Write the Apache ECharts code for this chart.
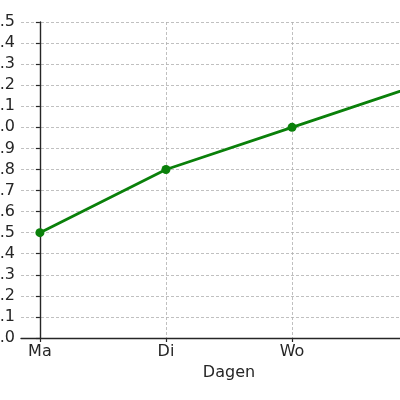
<!DOCTYPE html>
<html>
<head>
<meta charset="utf-8">
<script src="https://cdn.jsdelivr.net/npm/echarts@6/dist/echarts.min.js"></script>
<style>
	html, body { margin: 0; padding: 0; background: #fff; }
	#chart { width: 400px; height: 400px; }
</style>
</head>
<body>
<div id="chart"></div>
<script>
// gegevens
const dagen = ['Ma', 'Di', 'Wo', 'Do'];
const waarden = [0.5, 0.8, 1.0, 1.2];
const yTicks = [0, 0.1, 0.2, 0.3, 0.4, 0.5, 0.6, 0.7, 0.8, 0.9, 1.0, 1.1, 1.2, 1.3, 1.4, 1.5];

const dagIndex = dagen.map((d, i) => i);
const punten = waarden.map((v, i) => [i, v]);

const chart = echarts.init(document.getElementById('chart'));

const tekstKleur = '#262626';
const asKleur = '#262626';
const rasterLijn = { show: true, lineStyle: { color: '#b0b0b0', type: [3, 2], width: 0.8 } };

chart.setOption({
	animation: false,
	grid: {
		left: 21,
		top: 22,
		bottom: 62,
		width: 416,
		outerBoundsMode: 'none'
	},
	xAxis: {
		type: 'value',
		min: -0.15,
		max: dagen.length - 1 + 0.15,
		name: 'Dagen',
		nameLocation: 'middle',
		nameGap: 26,
		nameTextStyle: { fontFamily: 'DejaVu Sans', fontSize: 16, color: tekstKleur },
		axisLine: { show: true, onZero: false, lineStyle: { color: asKleur, width: 1.4 } },
		axisTick: { show: true, inside: false, length: 4, customValues: dagIndex, lineStyle: { color: asKleur, width: 1.2 } },
		axisLabel: {
			customValues: dagIndex,
			margin: 6,
			fontFamily: 'DejaVu Sans',
			fontSize: 16,
			color: tekstKleur,
			formatter: (v) => dagen[Math.round(v)] ?? ''
		},
		splitLine: rasterLijn
	},
	yAxis: {
		type: 'value',
		min: 0,
		max: 1.5,
		axisLine: { show: true, lineStyle: { color: asKleur, width: 1.4 } },
		axisTick: { show: true, inside: false, length: 4, customValues: yTicks, lineStyle: { color: asKleur, width: 1.2 } },
		axisLabel: {
			customValues: yTicks,
			margin: 6,
			fontFamily: 'DejaVu Sans',
			fontSize: 16,
			color: tekstKleur,
			formatter: (v) => v.toFixed(1)
		},
		splitLine: rasterLijn
	},
	series: [
		{
			type: 'line',
			data: punten,
			symbol: 'circle',
			symbolSize: 9,
			lineStyle: { color: '#0a800a', width: 2.8 },
			itemStyle: { color: '#0a800a' }
		}
	]
});
</script>
</body>
</html>
